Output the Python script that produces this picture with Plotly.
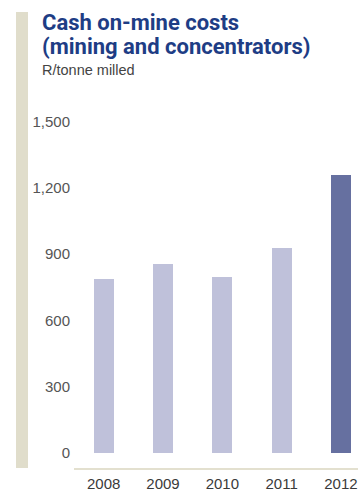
import plotly.graph_objects as go

# Cash on-mine costs, R/tonne milled
years = ["2008", "2009", "2010", "2011", "2012"]
costs = [787, 856, 796, 930, 1258]
bar_colors = ["#bfc1da", "#bfc1da", "#bfc1da", "#bfc1da", "#6670a0"]
y_ticks = [0, 300, 600, 900, 1200, 1500]
y_tick_text = ["0", "300", "600", "900", "1,200", "1,500"]

W, H = 358, 492
L, R, T, B = 74, 0, 100, 20
PW, PH = W - L - R, H - T - B


def px(x):
    return (x - L) / PW


def py(y):
    return (H - B - y) / PH


fig = go.Figure(
    go.Bar(
        x=list(range(len(years))),
        y=costs,
        marker=dict(color=bar_colors, line=dict(width=0)),
        width=0.3375,
        hoverinfo="skip",
    )
)

fig.update_layout(
    width=W,
    height=H,
    margin=dict(l=L, r=R, t=T, b=B, pad=0),
    paper_bgcolor="white",
    plot_bgcolor="white",
    showlegend=False,
    bargap=0,
    font=dict(family="Liberation Sans, Arial, sans-serif", size=15, color="#444"),
    xaxis=dict(
        range=[-0.5, 4.287],
        tickmode="array",
        tickvals=list(range(len(years))),
        ticktext=years,
        showgrid=False,
        zeroline=False,
        showline=True,
        linecolor="#e3e0cf",
        linewidth=2,
        ticks="",
        ticklabelstandoff=1,
        tickfont=dict(size=15, color="#3a3a3a"),
        fixedrange=True,
    ),
    yaxis=dict(
        range=[-69.5, 1598.6],
        tickmode="array",
        tickvals=y_ticks,
        ticktext=y_tick_text,
        showgrid=False,
        zeroline=False,
        showline=False,
        ticks="",
        ticklabelstandoff=3,
        tickfont=dict(size=15, color="#555"),
        fixedrange=True,
    ),
    shapes=[
        dict(
            type="rect",
            xref="paper",
            yref="paper",
            x0=px(16),
            x1=px(28),
            y0=py(472),
            y1=py(11),
            fillcolor="#e0ddcb",
            line=dict(width=0),
            layer="below",
        )
    ],
    annotations=[
        dict(
            text="<b>Cash on-mine costs</b>",
            xref="paper",
            yref="paper",
            x=px(40),
            y=py(21.5),
            xanchor="left",
            yanchor="middle",
            showarrow=False,
            font=dict(family="Roboto, sans-serif", size=22, color="#1e3d85"),
        ),
        dict(
            text="<b>(mining and concentrators)</b>",
            xref="paper",
            yref="paper",
            x=px(40),
            y=py(45.5),
            xanchor="left",
            yanchor="middle",
            showarrow=False,
            font=dict(family="Roboto, sans-serif", size=22, color="#1e3d85"),
        ),
        dict(
            text="R/tonne milled",
            xref="paper",
            yref="paper",
            x=px(40),
            y=py(70),
            xanchor="left",
            yanchor="middle",
            showarrow=False,
            font=dict(family="Liberation Sans, Arial, sans-serif", size=14.5, color="#444"),
        ),
    ],
)

fig.write_html("out.html", config={"displayModeBar": False})
